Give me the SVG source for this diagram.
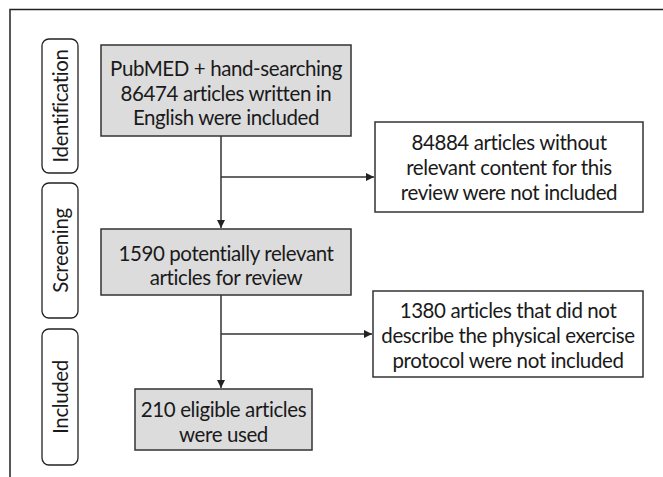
<svg xmlns="http://www.w3.org/2000/svg" width="663" height="477" viewBox="0 0 663 477">
<defs>
<style>
.frame{fill:none;stroke:#222;stroke-width:1.5}
.stage{fill:#fff;stroke:#222;stroke-width:1.3}
.grey{fill:#dcdcdd;stroke:#333;stroke-width:1.5}
.white{fill:#fff;stroke:#333;stroke-width:1.5}
.t{font-family:Lato,"Liberation Sans",sans-serif;font-size:20.5px;letter-spacing:-0.4px;fill:#1a1a1a;text-anchor:middle;dominant-baseline:central}
.con{fill:none;stroke:#333;stroke-width:1.5}
</style>
<marker id="ah" viewBox="0 0 10 10" refX="10" refY="5" markerWidth="8" markerHeight="8" markerUnits="userSpaceOnUse" orient="auto">
<path d="M0,0 L10,5 L0,10 Z" fill="#222"/>
</marker>
</defs>
<rect width="663" height="477" fill="#fff"/>
<path class="frame" d="M663,9.5 H10 V477"/>
<g id="stage-identification">
<rect class="stage" x="42" y="39" width="36" height="134" rx="7"/>
<text class="t" transform="translate(60,106) rotate(-90)">Identification</text>
</g>
<g id="stage-screening">
<rect class="stage" x="42" y="183" width="36" height="135" rx="7"/>
<text class="t" transform="translate(60,250.5) rotate(-90)">Screening</text>
</g>
<g id="stage-included">
<rect class="stage" x="42" y="329" width="36" height="136" rx="7"/>
<text class="t" transform="translate(60,397) rotate(-90)">Included</text>
</g>
<g id="n1">
<rect class="grey" x="101" y="45" width="250" height="91"/>
<text class="t" x="226" y="68">PubMED + hand-searching</text>
<text class="t" x="226" y="93">86474 articles written in</text>
<text class="t" x="226" y="117">English were included</text>
</g>
<g id="n2">
<rect class="white" x="375" y="122" width="268" height="90"/>
<text class="t" x="509" y="142">84884 articles without</text>
<text class="t" x="509" y="167">relevant content for this</text>
<text class="t" x="509" y="192">review were not included</text>
</g>
<g id="n3">
<rect class="grey" x="101" y="229" width="250" height="66"/>
<text class="t" x="226" y="253">1590 potentially relevant</text>
<text class="t" x="226" y="277">articles for review</text>
</g>
<g id="n4">
<rect class="white" x="373" y="291" width="270" height="86"/>
<text class="t" x="508" y="310">1380 articles that did not</text>
<text class="t" x="508" y="335">describe the physical exercise</text>
<text class="t" x="508" y="360">protocol were not included</text>
</g>
<g id="n5">
<rect class="grey" x="135" y="389" width="177" height="61"/>
<text class="t" x="223.5" y="409">210 eligible articles</text>
<text class="t" x="223.5" y="434">were used</text>
</g>
<g id="connectors">
<path class="con" d="M221,136 V228" marker-end="url(#ah)"/>
<path class="con" d="M221,177 H374" marker-end="url(#ah)"/>
<path class="con" d="M221,295 V388" marker-end="url(#ah)"/>
<path class="con" d="M221,334 H372" marker-end="url(#ah)"/>
</g>
</svg>
